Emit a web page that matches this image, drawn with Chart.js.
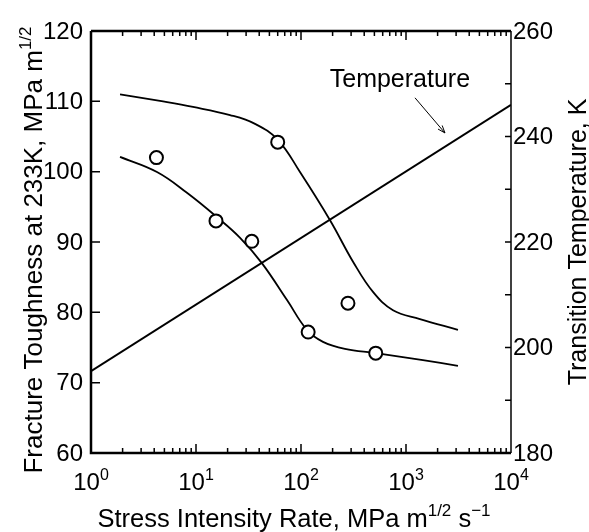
<!DOCTYPE html>
<html>
<head>
<meta charset="utf-8">
<script src="https://cdn.jsdelivr.net/npm/chart.js@4/dist/chart.umd.min.js"></script>
<style>
  html, body { margin: 0; padding: 0; background: #fff; }
  #wrap { width: 589px; height: 532px; }
</style>
</head>
<body>
<div id="wrap"><canvas id="myChart" width="589" height="532"></canvas></div>
<script>
// stress intensity rate, MPa m^1/2 s^-1 -> fracture toughness, MPa m^1/2
var upperRate = [1.89, 4.54, 9.36, 21.1, 36.5, 60.4, 97.8, 189, 313, 485, 752, 1358, 3125];
var upperKc   = [111.0, 110.05, 109.2, 108.05, 106.8, 104.5, 99.95, 93.1, 87.2, 82.9, 80.3, 79.05, 77.5];
var lowerRate = [1.89, 4.25, 8.2, 15.8, 26.3, 42.4, 73.6, 114, 162, 262, 517, 1450, 3125];
var lowerKc   = [102.1, 99.95, 97.0, 93.55, 90.6, 87.0, 81.75, 77.5, 75.8, 74.8, 74.2, 73.2, 72.4];
// measured points (open circles)
var pointRate = [4.2, 15.5, 34, 60, 117, 280, 515];
var pointKc   = [102, 93, 90.1, 104.2, 77.2, 81.3, 74.2];
// transition temperature, K (right axis)
var tempRate = [1, 10000];
var tempK    = [195.5, 246];

var xTicks = [1, 10, 100, 1000, 10000];
var xTickExp = ['0', '1', '2', '3', '4'];
var leftTicks = [60, 70, 80, 90, 100, 110, 120];
var rightTicks = [180, 200, 220, 240, 260];

function pairs(xs, ys) {
  var out = [];
  for (var i = 0; i < xs.length; i++) out.push({x: xs[i], y: ys[i]});
  return out;
}

var FONT = '"Liberation Sans", Arial, sans-serif';

// draws text pieces, some of them raised as superscripts
function drawParts(ctx, parts, x, y, align, size) {
  size = size || 24;
  var sup = Math.round(size * 0.67);
  var w = 0;
  parts.forEach(function (p) {
    ctx.font = (p.sup ? sup : size) + 'px ' + FONT;
    p.w = ctx.measureText(p.t).width;
    w += p.w;
  });
  var cx = x;
  if (align === 'center') cx = x - w / 2;
  if (align === 'right') cx = x - w;
  ctx.textAlign = 'left';
  ctx.textBaseline = 'alphabetic';
  parts.forEach(function (p) {
    ctx.font = (p.sup ? sup : size) + 'px ' + FONT;
    ctx.fillText(p.t, cx, p.sup ? y - size * 0.42 : y);
    cx += p.w;
  });
}

var framePlugin = {
  id: 'frame',
  afterDraw: function (chart) {
    var ctx = chart.ctx;
    var a = chart.chartArea;
    var xs = chart.scales.x, ys = chart.scales.y, y2 = chart.scales.y2;
    ctx.save();
    ctx.strokeStyle = '#000';
    ctx.fillStyle = '#000';

    // frame
    ctx.lineWidth = 2.5;
    ctx.beginPath();
    ctx.moveTo(a.left, a.top); ctx.lineTo(a.left, a.bottom); ctx.lineTo(a.right, a.bottom);
    ctx.moveTo(a.left, a.top); ctx.lineTo(a.right, a.top);
    ctx.stroke();
    ctx.lineWidth = 1.5;
    ctx.beginPath();
    ctx.moveTo(a.right, a.top); ctx.lineTo(a.right, a.bottom);
    ctx.stroke();

    // log ticks, inward, top and bottom
    ctx.lineWidth = 1.5;
    ctx.beginPath();
    for (var d = 0; d < 4; d++) {
      for (var m = 1; m <= 9; m++) {
        var px = xs.getPixelForValue(m * Math.pow(10, d));
        var len = m === 1 ? 9 : 5;
        ctx.moveTo(px, a.bottom); ctx.lineTo(px, a.bottom - len);
        ctx.moveTo(px, a.top); ctx.lineTo(px, a.top + len);
      }
    }
    ctx.stroke();

    // y ticks, inward
    ctx.beginPath();
    leftTicks.forEach(function (v) {
      var py = ys.getPixelForValue(v);
      ctx.moveTo(a.left, py); ctx.lineTo(a.left + 9, py);
    });
    for (var t = 180; t <= 260; t += 10) {
      var py2 = y2.getPixelForValue(t);
      ctx.moveTo(a.right, py2); ctx.lineTo(a.right - 6, py2);
    }
    ctx.stroke();

    // tick labels
    ctx.font = '24px ' + FONT;
    ctx.textBaseline = 'middle';
    ctx.textAlign = 'right';
    leftTicks.forEach(function (v) {
      ctx.fillText(String(v), a.left - 8, ys.getPixelForValue(v) + 1);
    });
    ctx.textAlign = 'left';
    rightTicks.forEach(function (v) {
      ctx.fillText(String(v), a.right + 2, y2.getPixelForValue(v) + 1);
    });
    xTicks.forEach(function (v, i) {
      drawParts(ctx, [{t: '10'}, {t: xTickExp[i], sup: true}], xs.getPixelForValue(v), a.bottom + 37, 'center', 24);
    });

    // axis titles
    drawParts(ctx, [{t: 'Stress Intensity Rate, MPa m'}, {t: '1/2', sup: true}, {t: ' s'}, {t: '\u22121', sup: true}],
      294, 527, 'center', 25.5);

    ctx.save();
    ctx.translate(42, 250);
    ctx.rotate(-Math.PI / 2);
    drawParts(ctx, [{t: 'Fracture Toughness at 233K, MPa m'}, {t: '1/2', sup: true}], 0, 0, 'center', 26);
    ctx.restore();

    ctx.save();
    ctx.translate(586, 242);
    ctx.rotate(-Math.PI / 2);
    drawParts(ctx, [{t: 'Transition Temperature, K'}], 0, 0, 'center', 25);
    ctx.restore();

    // annotation
    ctx.font = '25px ' + FONT;
    ctx.textAlign = 'center';
    ctx.textBaseline = 'middle';
    ctx.fillText('Temperature', xs.getPixelForValue(875), ys.getPixelForValue(113));
    var x0 = xs.getPixelForValue(1218), yA = ys.getPixelForValue(110.5);
    var x1 = xs.getPixelForValue(2350), yB = ys.getPixelForValue(105.5);
    ctx.lineWidth = 1;
    ctx.beginPath();
    ctx.moveTo(x0, yA); ctx.lineTo(x1, yB);
    var ang = Math.atan2(yB - yA, x1 - x0);
    ctx.moveTo(x1, yB); ctx.lineTo(x1 - 8 * Math.cos(ang - 0.35), yB - 8 * Math.sin(ang - 0.35));
    ctx.moveTo(x1, yB); ctx.lineTo(x1 - 8 * Math.cos(ang + 0.35), yB - 8 * Math.sin(ang + 0.35));
    ctx.stroke();
    ctx.restore();
  }
};

var ctx = document.getElementById('myChart').getContext('2d');
var chart = new Chart(ctx, {
  type: 'line',
  data: {
    datasets: [
      {
        label: 'measured',
        data: pairs(pointRate, pointKc),
        yAxisID: 'y',
        showLine: false,
        pointRadius: 6.5,
        pointBorderWidth: 2,
        pointBackgroundColor: '#fff',
        pointBorderColor: '#000'
      },
      {
        label: 'upper',
        data: pairs(upperRate, upperKc),
        yAxisID: 'y',
        borderColor: '#000',
        borderWidth: 1.8,
        pointRadius: 0,
        tension: 0.4
      },
      {
        label: 'lower',
        data: pairs(lowerRate, lowerKc),
        yAxisID: 'y',
        borderColor: '#000',
        borderWidth: 1.8,
        pointRadius: 0,
        tension: 0.4
      },
      {
        label: 'Temperature',
        data: pairs(tempRate, tempK),
        yAxisID: 'y2',
        borderColor: '#000',
        borderWidth: 2,
        pointRadius: 0
      }
    ]
  },
  options: {
    responsive: false,
    animation: false,
    layout: { padding: { left: 91, right: 78, top: 31, bottom: 79 } },
    plugins: { legend: { display: false }, tooltip: { enabled: false } },
    scales: {
      x: { type: 'logarithmic', min: 1, max: 10000, display: false },
      y: { type: 'linear', min: 60, max: 120, display: false },
      y2: { type: 'linear', min: 180, max: 260, display: false, position: 'right' }
    }
  },
  plugins: [framePlugin]
});
</script>
</body>
</html>
